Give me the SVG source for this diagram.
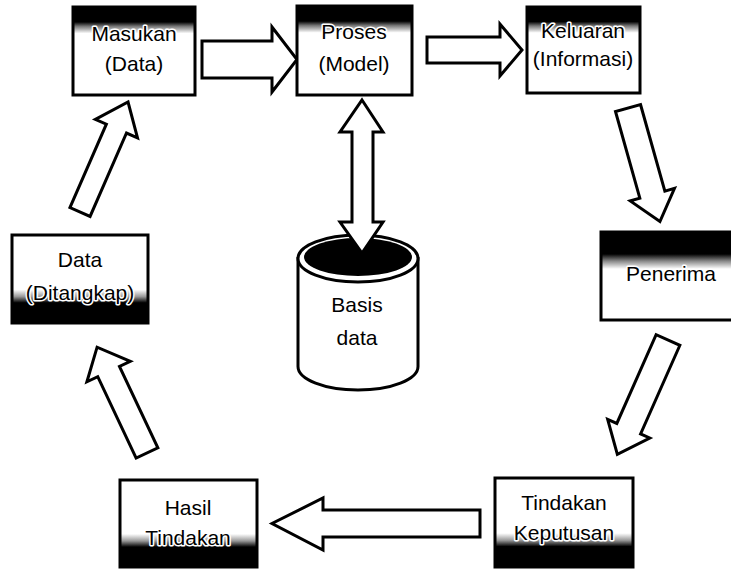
<svg xmlns="http://www.w3.org/2000/svg" width="731" height="569" viewBox="0 0 731 569">
<defs>
<linearGradient id="topShade" x1="0" y1="0" x2="0" y2="1">
<stop offset="0" stop-color="#000"/>
<stop offset="0.17" stop-color="#000"/>
<stop offset="0.22" stop-color="#777"/>
<stop offset="0.3" stop-color="#fff"/>
<stop offset="1" stop-color="#fff"/>
</linearGradient>
<linearGradient id="topShadeDeep" x1="0" y1="0" x2="0" y2="1">
<stop offset="0" stop-color="#000"/>
<stop offset="0.25" stop-color="#000"/>
<stop offset="0.33" stop-color="#888"/>
<stop offset="0.42" stop-color="#fff"/>
<stop offset="1" stop-color="#fff"/>
</linearGradient>
<linearGradient id="botShade" x1="0" y1="0" x2="0" y2="1">
<stop offset="0" stop-color="#fff"/>
<stop offset="0.62" stop-color="#fff"/>
<stop offset="0.7" stop-color="#999"/>
<stop offset="0.77" stop-color="#000"/>
<stop offset="1" stop-color="#000"/>
</linearGradient>
<style>
.box{stroke:#000;stroke-width:3}
.top{fill:url(#topShade)}
.topd{fill:url(#topShadeDeep)}
.bot{fill:url(#botShade)}
.arr{fill:#fff;stroke:#000;stroke-width:3;stroke-linejoin:miter}
.lbl{font-family:"Liberation Sans",Arial,sans-serif;font-size:21px;fill:#000;text-anchor:middle;stroke:#fff;stroke-width:3;paint-order:stroke;stroke-linejoin:round}
</style>
</defs>
<rect width="731" height="569" fill="#fff"/>

<g id="connectors">
<polygon id="a-masukan-proses" class="arr" points="202,41 272,41 272,27 297,59.5 272,92 272,78 202,78"/>
<polygon id="a-proses-keluaran" class="arr" points="427,37 500,37 500,24 522,50 500,76 500,63 427,63"/>
<polygon id="a-keluaran-penerima" class="arr" transform="translate(628,108) rotate(74.3)" points="0,-13 90,-13 90,-23 118,0 90,23 90,13 0,13"/>
<polygon id="a-penerima-tindakan" class="arr" transform="translate(668,340) rotate(113.9)" points="0,-13 97,-13 97,-23 125,0 97,23 97,13 0,13"/>
<polygon id="a-tindakan-hasil" class="arr" points="480,510 323,510 323,498 272,523.5 323,550 323,537 480,537"/>
<polygon id="a-hasil-data" class="arr" transform="translate(147,453) rotate(-115.25)" points="0,-12 90,-12 90,-24 117,0 90,24 90,12 0,12"/>
<polygon id="a-data-masukan" class="arr" transform="translate(80,212) rotate(-66.4)" points="0,-11 91,-11 91,-23 120,0 91,23 91,11 0,11"/>
</g>

<g id="basis-data">
<path d="M298,258.5 L298,366.5 A60,23.5 0 0 0 418,366.5 L418,258.5 Z" fill="#fff" stroke="#000" stroke-width="3"/>
<ellipse cx="358" cy="258.5" rx="60" ry="23.5" fill="#fff" stroke="#000" stroke-width="3"/>
<ellipse cx="358" cy="257" rx="54" ry="19" fill="#000"/>
<text class="lbl" x="357" y="312">Basis</text>
<text class="lbl" x="357" y="345">data</text>
</g>

<polygon id="a-proses-basis" class="arr" points="362,100 383,132 373,132 373,222 383,222 362,253 340,222 352,222 352,132 340,132"/>

<g id="masukan">
<rect class="box top" x="73" y="7" width="122" height="88"/>
<text class="lbl" x="134" y="41">Masukan</text>
<text class="lbl" x="134" y="71">(Data)</text>
</g>

<g id="proses">
<rect class="box top" x="297" y="6" width="115" height="89"/>
<text class="lbl" x="354" y="39">Proses</text>
<text class="lbl" x="354" y="71">(Model)</text>
</g>

<g id="keluaran">
<rect class="box top" x="527" y="7" width="113" height="86"/>
<text class="lbl" x="583" y="38">Keluaran</text>
<text class="lbl" x="583" y="66">(Informasi)</text>
</g>

<g id="penerima">
<rect class="box topd" x="601" y="232" width="135" height="88"/>
<text class="lbl" x="671" y="281">Penerima</text>
</g>

<g id="tindakan-keputusan">
<rect class="box bot" x="495" y="478" width="138" height="89"/>
<text class="lbl" x="564" y="510">Tindakan</text>
<text class="lbl" x="564" y="540">Keputusan</text>
</g>

<g id="hasil-tindakan">
<rect class="box bot" x="120" y="480" width="137" height="87"/>
<text class="lbl" x="188" y="515">Hasil</text>
<text class="lbl" x="188" y="545">Tindakan</text>
</g>

<g id="data-ditangkap">
<rect class="box bot" x="12" y="235" width="136" height="88"/>
<text class="lbl" x="80" y="267">Data</text>
<text class="lbl" x="80" y="300">(Ditangkap)</text>
</g>
</svg>
